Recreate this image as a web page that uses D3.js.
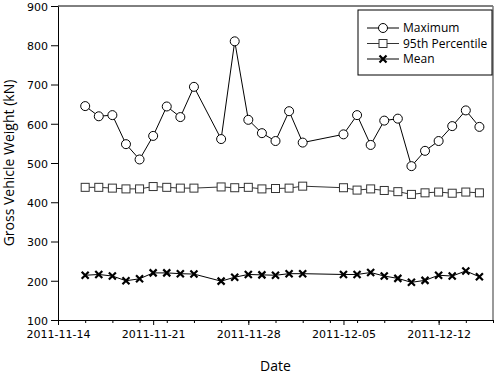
<!DOCTYPE html>
<html>
<head>
<meta charset="utf-8">
<script src="https://cdn.jsdelivr.net/npm/d3@7"></script>
<style>
  body { margin: 0; background: #fff; }
  text { font-family: "Open Sans", "DejaVu Sans", sans-serif; fill: #000; }
  .tick text { font-family: "DejaVu Sans", sans-serif; }
</style>
</head>
<body>
<div id="chart"></div>
<script>
// Dates of the daily observations
const dates = [
  "2011-11-16", "2011-11-17", "2011-11-18", "2011-11-19", "2011-11-20", "2011-11-21",
  "2011-11-22", "2011-11-23", "2011-11-24", "2011-11-26", "2011-11-27", "2011-11-28",
  "2011-11-29", "2011-11-30", "2011-12-01", "2011-12-02", "2011-12-05", "2011-12-06",
  "2011-12-07", "2011-12-08", "2011-12-09", "2011-12-10", "2011-12-11", "2011-12-12",
  "2011-12-13", "2011-12-14", "2011-12-15"
];

// Gross vehicle weight series (kN)
const maximum = [645, 619, 622, 548, 509, 569, 644, 617, 694, 561, 810, 610, 576, 556,
  632, 552, 573, 622, 546, 608, 613, 492, 531, 556, 594, 634, 592];
const pct95 = [438, 438, 436, 434, 434, 440, 438, 436, 436, 439, 437, 438, 434, 435,
  436, 441, 437, 431, 434, 430, 427, 420, 424, 426, 423, 426, 424];
const mean = [214, 216, 212, 200, 205, 220, 220, 218, 217, 199, 209, 216, 215, 214,
  218, 218, 216, 216, 221, 212, 206, 196, 201, 214, 212, 225, 210];

const yTicks = [100, 200, 300, 400, 500, 600, 700, 800, 900];
const xMajorTicks = ["2011-11-14", "2011-11-21", "2011-11-28", "2011-12-05", "2011-12-12"];

const seriesNames = ["Maximum", "95th Percentile", "Mean"];

const width = 500;
const height = 374;
const margin = { top: 6, right: 7, bottom: 54, left: 58 };

const parse = d3.timeParse("%Y-%m-%d");
const fmt = d3.timeFormat("%Y-%m-%d");

const svg = d3.select("#chart")
  .append("svg")
  .attr("width", width)
  .attr("height", height);

const x = d3.scaleTime()
  .domain([parse("2011-11-14"), parse("2011-12-16")])
  .range([margin.left, width - margin.right]);

const y = d3.scaleLinear()
  .domain([100, 900])
  .range([height - margin.bottom, margin.top]);

// Plot frame: top and right edges
svg.append("line")
  .attr("x1", margin.left).attr("x2", width - margin.right)
  .attr("y1", margin.top).attr("y2", margin.top)
  .attr("stroke", "#000");
svg.append("line")
  .attr("x1", width - margin.right).attr("x2", width - margin.right)
  .attr("y1", margin.top).attr("y2", height - margin.bottom)
  .attr("stroke", "#777").attr("stroke-width", 1.5);

// Minor x ticks every two days
const minorTicks = d3.timeDay.range(parse("2011-11-14"), parse("2011-12-17"), 2);
svg.append("g")
  .attr("transform", `translate(0,${height - margin.bottom})`)
  .call(d3.axisBottom(x).tickValues(minorTicks).tickSize(3).tickFormat(""))
  .call(g => g.select(".domain").remove());

// Major x axis
svg.append("g")
  .attr("transform", `translate(0,${height - margin.bottom})`)
  .call(d3.axisBottom(x)
    .tickValues(xMajorTicks.map(parse))
    .tickSize(5)
    .tickSizeOuter(0)
    .tickPadding(5)
    .tickFormat(fmt))
  .call(g => g.selectAll("text").style("font-size", "11px"));

// Y axis
svg.append("g")
  .attr("transform", `translate(${margin.left},0)`)
  .call(d3.axisLeft(y)
    .tickValues(yTicks)
    .tickSize(7)
    .tickSizeOuter(0)
    .tickPadding(3))
  .call(g => g.selectAll("text").style("font-size", "11px").attr("dy", "0.4em"));

// Axis titles
svg.append("text")
  .attr("x", (margin.left + width - margin.right) / 2)
  .attr("y", 371)
  .attr("text-anchor", "middle")
  .style("font-size", "14px")
  .text("Date");

svg.append("text")
  .attr("transform", `translate(14,${(margin.top + height - margin.bottom) / 2}) rotate(-90)`)
  .attr("text-anchor", "middle")
  .style("font-size", "14px")
  .text("Gross Vehicle Weight (kN)");

const pts = (vals) => vals.map((v, i) => ({ date: parse(dates[i]), value: v }));

const line = d3.line()
  .x(d => x(d.date))
  .y(d => y(d.value));

// Marker drawing helpers
function drawCircle(g, cx, cy) {
  g.append("circle")
    .attr("cx", cx).attr("cy", cy).attr("r", 4.5)
    .attr("fill", "#fff").attr("stroke", "#000").attr("stroke-width", 1);
}
function drawSquare(g, cx, cy) {
  g.append("rect")
    .attr("x", cx - 4).attr("y", cy - 4).attr("width", 8).attr("height", 8)
    .attr("fill", "#fff").attr("stroke", "#333").attr("stroke-width", 1);
}
function drawCross(g, cx, cy) {
  const s = 3.5;
  g.append("path")
    .attr("d", `M${cx - s},${cy - s}L${cx + s},${cy + s}M${cx - s},${cy + s}L${cx + s},${cy - s}`)
    .attr("stroke", "#000").attr("stroke-width", 2.2);
}

const series = [
  { name: seriesNames[0], data: pts(maximum), color: "#000", marker: drawCircle },
  { name: seriesNames[1], data: pts(pct95), color: "#333", marker: drawSquare },
  { name: seriesNames[2], data: pts(mean), color: "#000", marker: drawCross }
];

series.forEach(s => {
  const g = svg.append("g");
  g.append("path")
    .datum(s.data)
    .attr("d", line)
    .attr("fill", "none")
    .attr("stroke", s.color)
    .attr("stroke-width", 1);
  s.data.forEach(d => s.marker(g, x(d.date), y(d.value)));
});

// Legend
const legend = svg.append("g");
legend.append("rect")
  .attr("x", 358).attr("y", 10)
  .attr("width", 134).attr("height", 65)
  .attr("fill", "#fff").attr("stroke", "#000").attr("stroke-width", 1);

series.forEach((s, i) => {
  const ly = 28 + i * 15.5;
  legend.append("line")
    .attr("x1", 367).attr("x2", 399)
    .attr("y1", ly).attr("y2", ly)
    .attr("stroke", s.color);
  s.marker(legend, 383, ly);
  legend.append("text")
    .attr("x", 403).attr("y", ly)
    .attr("dy", "0.35em")
    .style("font-size", "12px")
    .text(s.name);
});
</script>
</body>
</html>
